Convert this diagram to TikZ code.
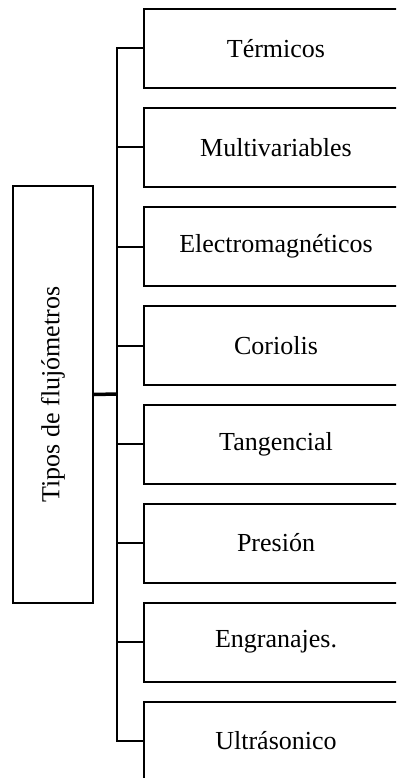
\documentclass[tikz,border=0pt]{standalone}
\usepackage{fontspec}
\setmainfont{Liberation Serif}
\begin{document}
\begin{tikzpicture}[x=1pt,y=-1pt,
  leaf/.style={draw,line width=2pt,minimum width=264pt,minimum height=79pt,
    anchor=north west,inner sep=0pt,font=\fontsize{26}{30}\selectfont},
  rootbox/.style={draw,line width=2pt,minimum width=80pt,minimum height=417pt,
    anchor=north west,inner sep=0pt},
  link/.style={line width=2pt},
  mainlink/.style={line width=3.5pt}]
  \useasboundingbox (0,0) rectangle (396,778);
  \clip (0,0) rectangle (396,778);
  % root box with vertical title
  \node[rootbox] (root) at (12,185) {};
  \node[rotate=90,font=\fontsize{26}{30}\selectfont] (title) at (root.center) {Tipos de flujómetros};
  % category boxes
  \node[leaf] (a1) at (143,8) {Térmicos};
  \node[leaf] (a2) at (143,107) {Multivariables};
  \node[leaf] (a3) at (143,206) {Electromagnéticos};
  \node[leaf] (a4) at (143,305) {Coriolis};
  \node[leaf] (a5) at (143,403.5) {Tangencial};
  \node[leaf] (a6) at (143,502.5) {Presión};
  \node[leaf] (a7) at (143,601.5) {Engranajes.};
  \node[leaf] (a8) at (143,700.5) {Ultrásonico};
  % trunk and branches
  \coordinate (trunk) at (117,394);
  \draw[link] (a1.west) -| (trunk) |- (a8.west);
  \foreach \n in {a2,a3,a4,a5,a6,a7}
    \draw[link] (\n.west) -- (\n.west -| trunk);
  \draw[mainlink] (root.east) -- (trunk);
\end{tikzpicture}
\end{document}
